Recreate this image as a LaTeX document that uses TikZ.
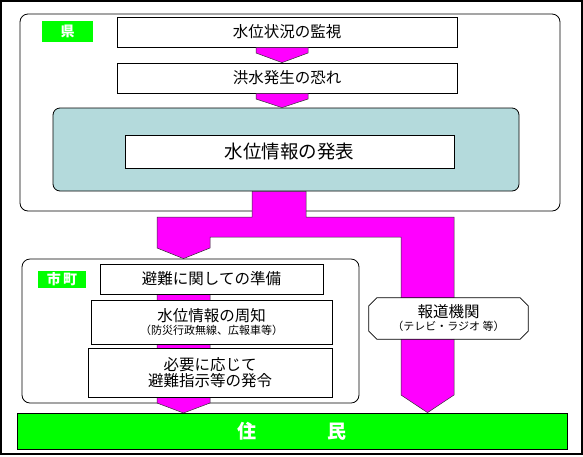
\documentclass[tikz,border=0pt]{standalone}
\usepackage{fontspec}
\setmainfont{Noto Sans CJK JP}
\usetikzlibrary{positioning, calc}
\definecolor{flowmagenta}{RGB}{255, 0, 255}
\definecolor{labelgreen}{RGB}{0, 255, 0}
\definecolor{infoteal}{RGB}{180, 218, 220}

\begin{document}
\begin{tikzpicture}[x=1pt, y=-1pt,
    stepbox/.style={draw=black, line width=0.8pt, fill=white, minimum height=30pt, inner sep=0pt, font=\fontsize{15.5}{17}\selectfont},
    groupbox/.style={draw=black, line width=0.8pt, rounded corners=8pt, inner sep=0pt},
    tagbox/.style={fill=labelgreen, text=white, inner sep=0pt, font=\bfseries\fontsize{14}{16}\selectfont},
    flow/.style={fill=flowmagenta, draw=black!80, line width=0.5pt}]
    \useasboundingbox (0,0) rectangle (583,456);
    \draw[line width=2pt] (1,1) rectangle (582,454);

    % prefecture
    \node[groupbox, minimum width=540pt, minimum height=197pt] (pref) at (290,112.5) {};
    \node[tagbox, minimum width=51pt, minimum height=21pt] (preftag) at (67.5,31.5) {県};
    \node[stepbox, minimum width=340pt] (watch) at (287,32) {水位状況の監視};
    \node[stepbox, minimum width=340pt] (risk) at (287,78) {洪水発生の恐れ};
    \node[groupbox, fill=infoteal, rounded corners=7pt, minimum width=466pt, minimum height=83pt] (issuepanel) at (286,149.5) {};
    \node[stepbox, minimum width=329pt, minimum height=33pt, font=\fontsize{18.5}{20}\selectfont] (issue) at (289.5,151.5) {水位情報の発表};

    \draw[flow] (256,0 |- watch.south) -- (308,0 |- watch.south) -- (308,53) -- (282,0 |- risk.north) -- (256,53) -- cycle;
    \draw[flow] (256,0 |- risk.south) -- (308,0 |- risk.south) -- (308,99) -- (282,0 |- issuepanel.north) -- (256,99) -- cycle;

    % municipality
    \node[groupbox, minimum width=337pt, minimum height=144pt] (city) at (190.5,331) {};
    \node[tagbox, minimum width=48pt, minimum height=17pt] (citytag) at (62,279.5) {市\,町};
    \draw[flow] (157,290) -- (210,290) -- (210,403) -- (183.5,413) -- (157,403) -- cycle;
    \node[stepbox, minimum width=223pt] (prepare) at (211.5,279) {避難に関しての準備};
    \node[stepbox, minimum width=241pt, minimum height=44pt, align=center] (notify) at (211.5,322)
        {水位情報の周知\\[-4pt]{\fontsize{11}{13}\selectfont（防災行政無線、広報車等）}};
    \node[stepbox, minimum width=244pt, minimum height=49pt, align=center] (order) at (210,372.5)
        {必要に応じて\\[-1pt]避難指示等の発令};

    % residents
    \node[draw=black, line width=0.8pt, fill=labelgreen, text=white, minimum width=550pt, minimum height=36pt,
          font=\bfseries\fontsize{19}{21}\selectfont] (residents) at (292,431) {住\hspace{3.7em}民\hspace{0.5em}};

    % main distribution arrow
    \draw[flow] (252,0 |- issuepanel.south) -- (306,0 |- issuepanel.south) -- (306,217) -- (454,217)
        -- (454,395) -- (427.5,0 |- residents.north) -- (401,395) -- (401,237) -- (210,237) -- (210,248)
        -- (183.5,0 |- city.north) -- (157,248) -- (157,217) -- (252,217) -- cycle;

    % media
    \node[minimum width=159pt, minimum height=41pt, inner sep=0pt] (media) at (448.5,318.5) {};
    \draw[line width=0.8pt, fill=white] ($(media.north west)+(8,0)$) -- ($(media.north east)+(-8,0)$)
        -- ($(media.north east)+(0,8)$) -- ($(media.south east)+(0,-8)$) -- ($(media.south east)+(-8,0)$)
        -- ($(media.south west)+(8,0)$) -- ($(media.south west)+(0,-8)$) -- ($(media.north west)+(0,8)$) -- cycle;
    \node[align=center, inner sep=0pt, font=\fontsize{15.5}{17}\selectfont] (mediatext) at (media)
        {報道機関\\[-4pt]{\fontsize{11}{13}\selectfont（テレビ・ラジオ 等）}};
\end{tikzpicture}
\end{document}
